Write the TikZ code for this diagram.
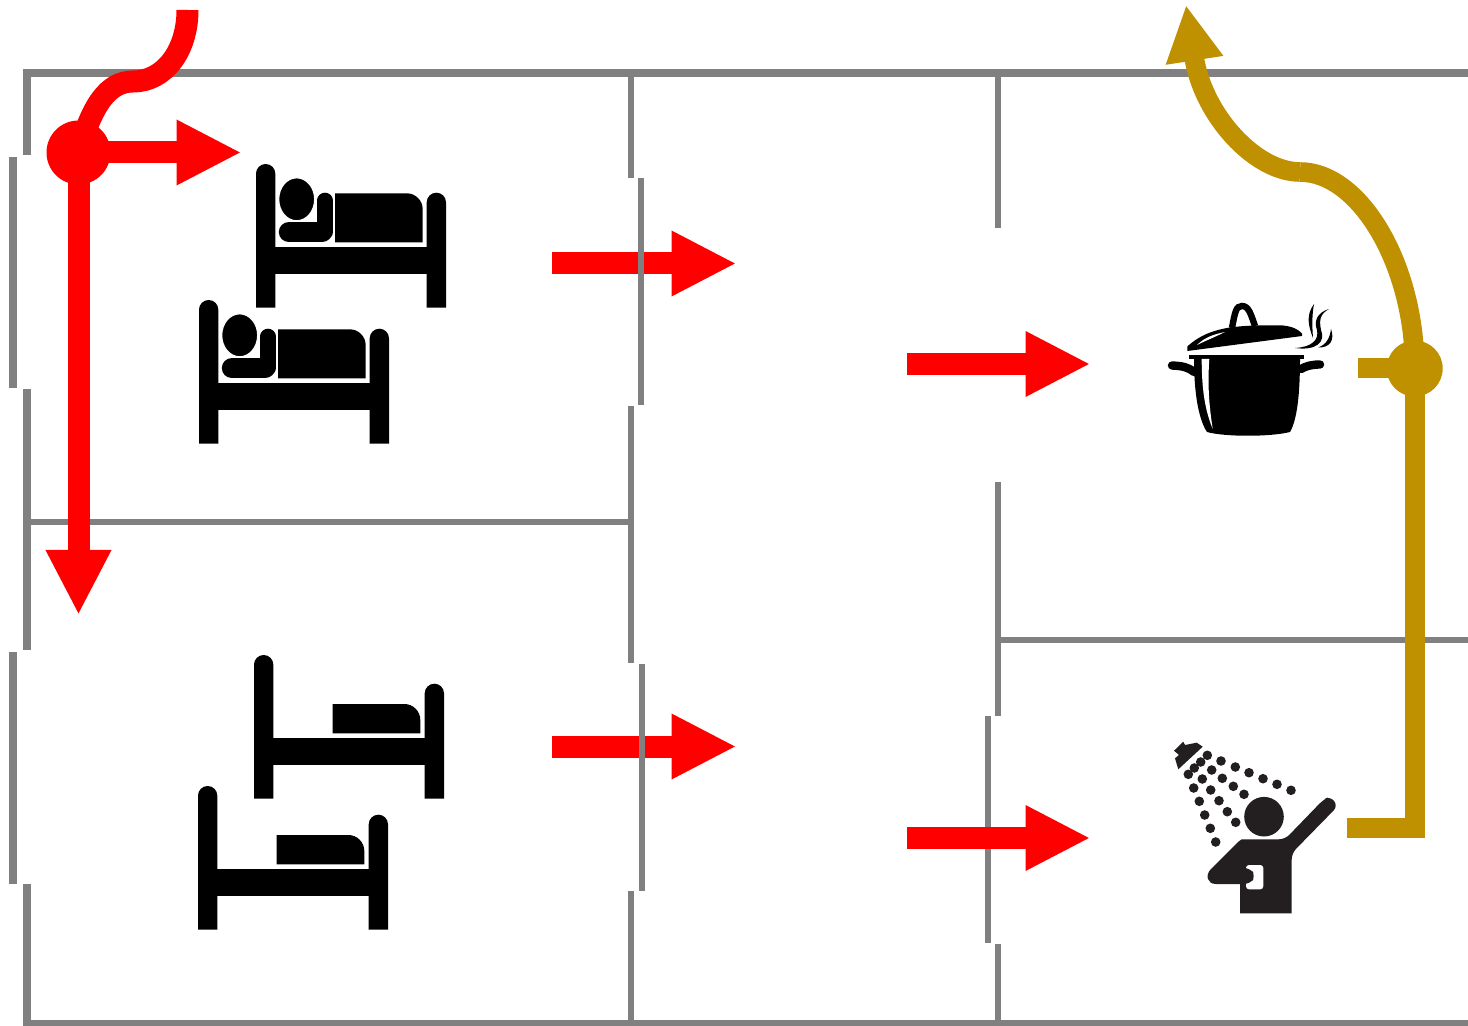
\documentclass[tikz,border=0pt]{standalone}
\usetikzlibrary{arrows.meta}

\definecolor{wallgray}{HTML}{808080}
\definecolor{flowred}{HTML}{FF0000}
\definecolor{flowgold}{HTML}{BF9000}
\definecolor{showerink}{HTML}{231F20}

\tikzset{
  outerwall/.style={wallgray, line width=4.2pt},
  innerwall/.style={wallgray, line width=3pt},
  redflow/.style={flowred, line width=11pt, -{Triangle[length=32.5pt,width=30.4pt]}},
  goldflow/.style={flowgold, line width=9.8pt},
  redhub/.style={circle, fill=flowred, minimum size=32pt, inner sep=0pt},
  goldhub/.style={circle, fill=flowgold, minimum size=28pt, inner sep=0pt},
  pics/bedframe/.style={code={
    \fill (0,143.7) -- (0,9.65) arc[start angle=180,end angle=360,radius=9.65] -- (19.3,143.7) -- cycle;
    \fill (170.7,143.7) -- (170.7,38.35) arc[start angle=180,end angle=360,radius=9.65] -- (190,143.7) -- cycle;
    \fill (0,82.7) rectangle (190,109.7);
  }},
  pics/sleepbed/.style={code={
    \pic {bedframe};
    \fill (79,78.3) -- (79,29.3) [rounded corners=8pt] -- (166.7,29.3) [sharp corners] -- (166.7,78.3) -- cycle;
    \draw[line width=7.7pt, line cap=round] (69,36.4) -- (69,68);
    \draw[line width=10.2pt, line cap=round] (33,68.2) -- (66,68.2);
    \fill[draw=white, line width=0.6pt] (40.7,35.3) ellipse (18 and 21.5);
  }},
  pics/emptybed/.style={code={
    \pic {bedframe};
    \fill (78.7,78.3) -- (78.7,49) [rounded corners=8pt] -- (166.3,49) [sharp corners] -- (166.3,78.3) -- cycle;
  }}
}

\begin{document}
\begin{tikzpicture}[x=0.5pt,y=-0.5pt]
\useasboundingbox (0,0) rectangle (1468,1026);

% Draw outer walls
\draw[outerwall] (1468,73) -- (27,73) -- (27,155);
\draw[outerwall] (13,157) -- (13,388);
\draw[outerwall] (27,389) -- (27,650);
\draw[outerwall] (13,652) -- (13,884);
\draw[outerwall] (27,884) -- (27,1024) -- (1468,1024);

% Draw inner walls
\foreach \xa/\ya/\xb/\yb in {
  27/522/631/522, 630.5/73/630.5/178, 630.5/406/630.5/663, 630.5/891/630.5/1024,
  998/73/998/228, 998/482/998/716, 998/944/998/1024, 998/640/1468/640, 988/716/988/943
}
  \draw[innerwall] (\xa,\ya) -- (\xb,\yb);

% Red arrows
\coordinate (bedroomA) at (552,263.5);
\coordinate (hallA) at (736.5,263.5);
\coordinate (bedroomB) at (552,746.5);
\coordinate (hallB) at (736.5,746.5);
\coordinate (hallC) at (907,364);
\coordinate (kitchen) at (1090.5,364);
\coordinate (hallD) at (907,838);
\coordinate (bath) at (1090.5,838);
\foreach \a/\b in {bedroomA/hallA, bedroomB/hallB, hallC/kitchen, hallD/bath}
  \draw[redflow] (\a) -- (\b);

% Doors drawn over the arrows
\draw[innerwall] (641,178) -- (641,405);
\draw[innerwall] (642,664) -- (642,891);

% Entrance
\coordinate (outside) at (187.5,10);
\coordinate (entrybend) at (133,81.5);
\coordinate (roomA) at (241.5,152.5);
\coordinate (roomB) at (78.5,615);
\node[redhub] (entryhub) at (78.5,152.5) {};
\draw[flowred, line width=11pt] (outside) .. controls (187.5,50) and (165,81.5) .. (entrybend)
  .. controls (108,81.5) and (92,105) .. (entryhub.center);
\draw[redflow] (entryhub.center) -- (roomA);
\draw[redflow] (entryhub.center) -- (roomB);

% Exhaust
\coordinate (potout) at (1358,367.8);
\coordinate (showerout) at (1346.7,827.8);
\coordinate (showercorner) at (1414.7,827.8);
\coordinate (exhaustbend) at (1300,172);
\coordinate (exhaust) at (1186,5);
\node[goldhub] (exhausthub) at (1414.7,368.5) {};
\draw[goldflow] (potout) -- (potout -| exhausthub);
\draw[goldflow] (showerout) -- (showercorner) -- (exhausthub.center);
\draw[goldflow] (exhausthub.center) .. controls (1414.7,265) and (1360,172) .. (exhaustbend);
\draw[goldflow, -{Triangle[length=28pt,width=27pt]}] (exhaustbend)
  .. controls (1255,172) and (1203,115) .. (exhaust);

% Beds
\pic at (256,164) {sleepbed};
\pic at (199,300) {sleepbed};
\pic at (254,655) {emptybed};
\pic at (198,786) {emptybed};

% Pot
\fill (1189,355) rectangle (1304,359);
\fill (1194,358) .. controls (1194,395) and (1199,420) .. (1207,432)
  .. controls (1225,437) and (1270,437) .. (1290,432)
  .. controls (1297,420) and (1300,395) .. (1300,358) -- cycle;
\fill[white] (1201.7,359) .. controls (1201.7,390) and (1205,410) .. (1212.7,429)
  .. controls (1209,405) and (1207.5,385) .. (1209.3,359) -- cycle;
\draw[line width=4.2pt, line cap=round] (1172,365.5) .. controls (1182,366) and (1188,367) .. (1194,372);
\draw[line width=4.2pt, line cap=round] (1320,364.5) .. controls (1312,364.5) and (1306,366) .. (1301,369);
\fill (1187.3,346.5) .. controls (1200,335) and (1212,331) .. (1226.7,328)
  .. controls (1245,325) and (1270,325) .. (1283,325.5)
  .. controls (1292,326.5) and (1298,329) .. (1302,333.5) -- (1302,336) -- (1187.3,351) -- cycle;
\fill[white] (1197,345) .. controls (1205,337) and (1215,334) .. (1225,332) .. controls (1215,337) and (1205,341) .. (1197,345) -- cycle;
\draw[line width=3.2pt] (1232,328) .. controls (1235,312) and (1236,306) .. (1242,306)
  .. controls (1249,306) and (1251,315) .. (1255,326);
\fill (1314,304) .. controls (1306,315) and (1308,325) .. (1313,338)
  .. controls (1312,325) and (1312,315) .. (1314,304) -- cycle;
\fill (1329,309) .. controls (1316,313) and (1314,322) .. (1317,330)
  .. controls (1319,340) and (1312,347) .. (1295,348)
  .. controls (1316,351) and (1326,342) .. (1321,330)
  .. controls (1319,320) and (1320,314) .. (1329,309) -- cycle;
\fill (1331,329) .. controls (1330,338) and (1326,345) .. (1318,347.5)
  .. controls (1330,348) and (1335,340) .. (1331,329) -- cycle;

% Shower
\fill[showerink] (1264,816.7) circle (9.9pt);
\fill[showerink, rounded corners=3pt] (1241.7,839.3) -- (1285,839.3) -- (1323,800) -- (1330,796) -- (1338,806) -- (1291.7,853.3)
  [sharp corners] -- (1291.7,913.3) -- (1240,913.3) -- (1240,884) -- (1216,884)
  .. controls (1207,884) and (1205,875) .. (1211,869) -- (1238,842) -- cycle;
\fill[white, rounded corners=1.5pt] (1246,865) rectangle (1263.3,889.3);
\fill[showerink, rounded corners=3pt] (1240,868) -- (1250,868) -- (1255.7,876) -- (1250,884) -- (1240,884) -- cycle;
\fill[showerink] (1174,750.7) -- (1183.3,741.7) -- (1185,745) -- (1196.7,742.7) -- (1202.7,746.7) -- (1178.3,769.3) -- (1175,758.3) -- (1179,755) -- cycle;
\foreach \x/\y in {
  1207.3/755.3, 1221/761, 1235.3/767, 1249/772.7, 1263/778.7, 1277/784.3, 1291/790.3,
  1200.7/762, 1211.7/770, 1222.3/778.3, 1233.3/786.3, 1244/794.3,
  1194.3/768, 1202.3/779, 1210.7/790, 1219/800.7, 1227.3/811.7, 1235.7/822.3,
  1188.3/774.3, 1193.7/788, 1199.3/801.3, 1204.7/815, 1210.3/828.3, 1215.7/842
}
{
\fill[showerink] (\x,\y) circle (2.4pt);
}

\end{tikzpicture}
\end{document}
